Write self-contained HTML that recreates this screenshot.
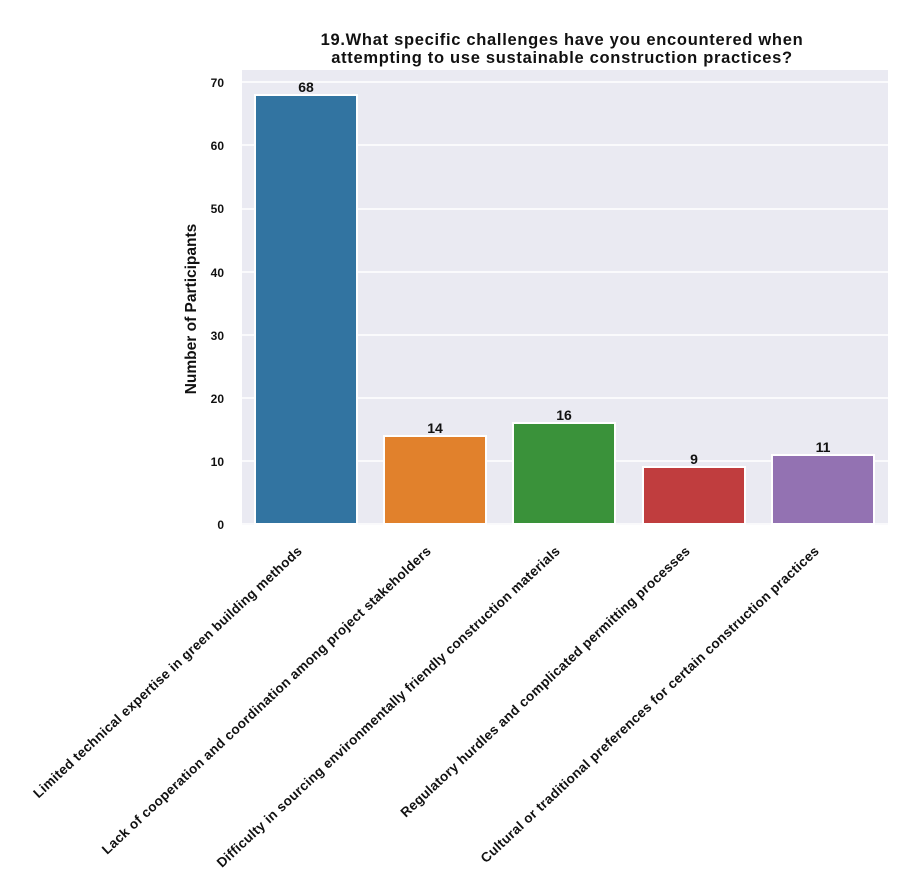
<!DOCTYPE html>
<html><head><meta charset="utf-8"><style>
html,body{margin:0;padding:0;background:#fff;}
svg{display:block;font-family:"Liberation Sans",Arial,sans-serif;font-weight:bold;}
</style></head><body>
<svg width="920" height="892" viewBox="0 0 920 892" xmlns="http://www.w3.org/2000/svg">
<rect x="242" y="70" width="646" height="455" fill="#eaeaf2"/>
<g stroke="#fff" stroke-width="1.5">
<line x1="242" x2="888" y1="524" y2="524"/>
<line x1="242" x2="888" y1="461" y2="461"/>
<line x1="242" x2="888" y1="398" y2="398"/>
<line x1="242" x2="888" y1="335" y2="335"/>
<line x1="242" x2="888" y1="272" y2="272"/>
<line x1="242" x2="888" y1="209" y2="209"/>
<line x1="242" x2="888" y1="145" y2="145"/>
<line x1="242" x2="888" y1="82" y2="82"/>
</g>
<g stroke="#fff" stroke-width="2">
<rect x="255" y="95" width="102" height="429" fill="#3274a1"/>
<rect x="384" y="436" width="102" height="88" fill="#e1812c"/>
<rect x="513" y="423" width="102" height="101" fill="#3a923a"/>
<rect x="643" y="467" width="102" height="57" fill="#c03d3e"/>
<rect x="772" y="455" width="102" height="69" fill="#9372b2"/>
</g>
<g font-size="14" text-anchor="middle" fill="#111">
<text x="306" y="92">68</text>
<text x="435" y="433">14</text>
<text x="564" y="420">16</text>
<text x="694" y="464">9</text>
<text x="823" y="452">11</text>
</g>
<g font-size="12" text-anchor="end" fill="#111">
<text x="224" y="87">70</text>
<text x="224" y="150">60</text>
<text x="224" y="213">50</text>
<text x="224" y="277">40</text>
<text x="224" y="340">30</text>
<text x="224" y="403">20</text>
<text x="224" y="466">10</text>
<text x="224" y="529">0</text>
</g>
<text transform="translate(196,309) rotate(-90)" font-size="15.5" text-anchor="middle" fill="#111">Number of Participants</text>
<g font-size="16.5" text-anchor="middle" fill="#111" letter-spacing="0.7">
<text x="562" y="45">19.What specific challenges have you encountered when</text>
<text x="562" y="63">attempting to use sustainable construction practices?</text>
</g>
<g font-size="13.5" text-anchor="end" fill="#111" letter-spacing="0.3">
<text transform="translate(303,552) rotate(-43)">Limited technical expertise in green building methods</text>
<text transform="translate(432,552) rotate(-43)">Lack of cooperation and coordination among project stakeholders</text>
<text transform="translate(561,552) rotate(-43)">Difficulty in sourcing environmentally friendly construction materials</text>
<text transform="translate(691,552) rotate(-43)">Regulatory hurdles and complicated permitting processes</text>
<text transform="translate(820,552) rotate(-43)">Cultural or traditional preferences for certain construction practices</text>
</g>
</svg>
</body></html>
